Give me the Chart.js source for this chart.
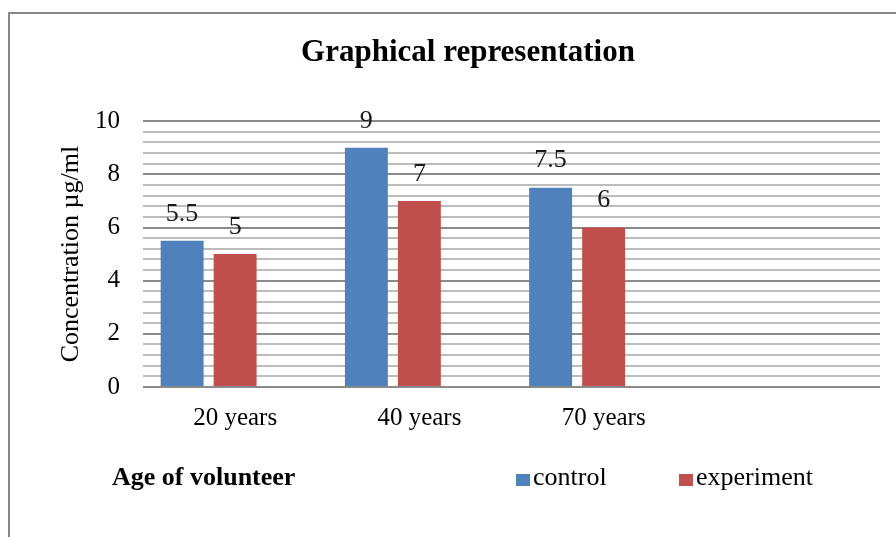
<!DOCTYPE html>
<html>
<head>
<meta charset="utf-8">
<script src="https://cdn.jsdelivr.net/npm/chart.js@4.4.1/dist/chart.umd.min.js"></script>
<style>
  html, body { margin: 0; padding: 0; background: #fff; }
  #wrap { position: relative; width: 896px; height: 537px; overflow: hidden; }
  #frame { position: absolute; left: 8px; top: 12px; right: -10px; bottom: -10px;
           border-left: 2px solid #888; border-top: 2px solid #888; }
  #c { position: absolute; left: 0; top: 0; }
</style>
</head>
<body>
<div id="wrap">
  <div id="frame"></div>
  <canvas id="c" width="896" height="537"></canvas>
</div>
<script>
// datos
const categories = ["20 years", "40 years", "70 years", ""];
const control = [5.5, 9, 7.5, null];
const experiment = [5, 7, 6, null];
const spacer = [null, null, null, null]; // serie vacía, como en Excel

const serif = "'Liberation Serif', 'Times New Roman', serif";

// etiquetas encima de las barras
const valueLabels = {
  id: "valueLabels",
  afterDatasetsDraw(chart) {
    const ctx = chart.ctx;
    ctx.save();
    ctx.font = "26px " + serif;
    ctx.fillStyle = "#1a1a1a";
    ctx.textAlign = "center";
    ctx.textBaseline = "middle";
    chart.data.datasets.forEach((ds, i) => {
      if (ds.hideLegend) return;
      chart.getDatasetMeta(i).data.forEach((bar, j) => {
        const v = ds.data[j];
        if (v == null) return;
        ctx.fillText(String(v), bar.x, bar.y - 27);
      });
    });
    ctx.restore();
  }
};

// título del eje x y leyenda abajo
const bottomRow = {
  id: "bottomRow",
  afterDraw(chart) {
    const ctx = chart.ctx;
    const y = 479;
    ctx.save();
    ctx.textBaseline = "middle";
    ctx.textAlign = "left";
    ctx.fillStyle = "#000";
    ctx.font = "bold 26px " + serif;
    ctx.fillText("Age of volunteer", 112, y - 1);

    ctx.font = "26px " + serif;
    const xs = [516, 679];
    chart.data.datasets.filter(d => !d.hideLegend).forEach((ds, i) => {
      ctx.fillStyle = ds.backgroundColor;
      ctx.fillRect(xs[i], y - 5, 14, 12);
      ctx.fillStyle = "#000";
      ctx.fillText(ds.label, xs[i] + 17, y - 1);
    });
    ctx.restore();
  }
};

const isMajor = v => Math.abs(v / 2 - Math.round(v / 2)) < 1e-6;

new Chart(document.getElementById("c"), {
  type: "bar",
  data: {
    labels: categories,
    datasets: [
      { label: "control", data: control, backgroundColor: "#4f81bd" },
      { label: "experiment", data: experiment, backgroundColor: "#c0504d" },
      { label: "", data: spacer, backgroundColor: "transparent", hideLegend: true }
    ]
  },
  options: {
    responsive: false,
    animation: false,
    events: [],
    datasets: { bar: { categoryPercentage: 0.863, barPercentage: 0.81 } },
    layout: { padding: { left: 56, right: 16, top: 0, bottom: 100 } },
    plugins: {
      legend: { display: false },
      tooltip: { enabled: false },
      title: {
        display: true,
        text: "Graphical representation",
        color: "#000",
        font: { family: serif, size: 31, weight: "bold" },
        padding: { top: 34, bottom: 50 }
      }
    },
    scales: {
      x: {
        afterFit: s => { s.height = 50; },
        grid: { display: false, drawTicks: false },
        border: { display: false },
        ticks: { color: "#000", font: { family: serif, size: 25 }, padding: 16, maxRotation: 0 }
      },
      y: {
        min: 0,
        max: 10,
        afterFit: s => { s.width = 87; },
        border: { display: false },
        grid: {
          drawTicks: false,
          color: ctx => isMajor(ctx.tick.value) ? "#8a8a8a" : "#bcbcbc",
          lineWidth: 2
        },
        ticks: {
          stepSize: 0.4,
          maxTicksLimit: 100,
          autoSkip: false,
          padding: 23,
          color: "#000",
          font: { family: serif, size: 25 },
          callback: v => isMajor(v) ? String(Math.round(v)) : ""
        },
        title: {
          display: true,
          text: "Concentration µg/ml",
          color: "#000",
          font: { family: serif, size: 26 },
          padding: { top: 0, bottom: 10 }
        }
      }
    }
  },
  plugins: [valueLabels, bottomRow]
});
</script>
</body>
</html>
